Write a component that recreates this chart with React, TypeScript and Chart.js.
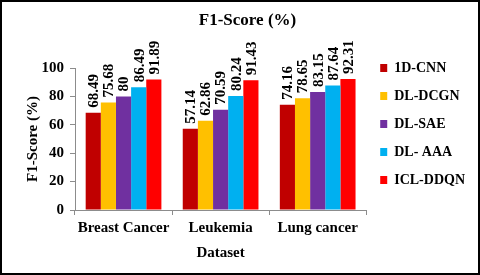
import React, { useEffect, useRef } from "react";
import { Chart, registerables } from "chart.js";

Chart.register(...registerables);

const categories = ["Breast Cancer", "Leukemia", "Lung cancer"];
const seriesNames = ["1D-CNN", "DL-DCGN", "DL-SAE", "DL- AAA", "ICL-DDQN"];
const cnnValues = [68.49, 57.14, 74.16];
const dcgnValues = [75.68, 62.86, 78.65];
const saeValues = [80, 70.59, 83.15];
const aaaValues = [86.49, 80.24, 87.64];
const ddqnValues = [91.89, 91.43, 92.31];
const seriesColors = ["#C00000", "#FFC000", "#7030A0", "#00B0F0", "#FF0000"];
const yTicks = [0, 20, 40, 60, 80, 100];

const FONT = "'Liberation Serif', 'Times New Roman', serif";

const valueLabels = {
  id: "valueLabels",
  afterDatasetsDraw(chart: any) {
    const ctx = chart.ctx;
    ctx.save();
    ctx.fillStyle = "#000";
    ctx.font = `bold 15px ${FONT}`;
    ctx.textAlign = "left";
    ctx.textBaseline = "middle";
    chart.data.datasets.forEach((ds: any, di: number) => {
      const meta = chart.getDatasetMeta(di);
      meta.data.forEach((bar: any, i: number) => {
        ctx.save();
        ctx.translate(bar.x, bar.y - 5);
        ctx.rotate(-Math.PI / 2);
        ctx.fillText(String(ds.data[i]), 0, 1);
        ctx.restore();
      });
    });
    ctx.restore();
  },
};

export default function App() {
  const ref = useRef<HTMLCanvasElement>(null);
  useEffect(() => {
    const allValues = [cnnValues, dcgnValues, saeValues, aaaValues, ddqnValues];
    const chart = new Chart(ref.current!, {
      type: "bar",
      data: {
        labels: categories,
        datasets: seriesNames.map((name, i) => ({
          label: name,
          data: allValues[i],
          backgroundColor: seriesColors[i],
          borderWidth: 0,
          barPercentage: 1,
          categoryPercentage: 0.78,
        })),
      },
      options: {
        responsive: false,
        animation: false,
        layout: { padding: { left: 20, right: 5, top: 0, bottom: 9 } },
        plugins: {
          title: {
            display: true,
            text: "F1-Score (%)",
            color: "#000",
            font: { family: FONT, size: 17, weight: "bold" },
            padding: { top: 10, bottom: 37.6 },
          },
          legend: {
            position: "right",
            align: "start",
            title: { display: true, text: "", font: { size: 12 }, padding: { top: 17, bottom: 15.6 } },
            labels: {
              boxWidth: 7,
              boxHeight: 8,
              padding: 14,
              color: "#000",
              font: { family: FONT, size: 14, weight: "bold" },
            },
          },
          tooltip: { enabled: false },
        },
        scales: {
          x: {
            grid: { drawOnChartArea: false, tickLength: 5, color: "#8c8c8c", offset: true },
            border: { color: "#8c8c8c" },
            ticks: {
              color: "#000",
              padding: 4,
              maxRotation: 0,
              autoSkip: false,
              font: { family: FONT, size: 15, weight: "bold" },
            },
            title: {
              display: true,
              text: "Dataset",
              color: "#000",
              font: { family: FONT, size: 15, weight: "bold" },
              padding: { top: 3, bottom: 4 },
            },
          },
          y: {
            min: 0,
            max: 100,
            afterBuildTicks: (axis: any) => {
              axis.ticks = yTicks.map((v) => ({ value: v }));
            },
            grid: { drawOnChartArea: false, tickLength: 5, color: "#8c8c8c" },
            border: { color: "#8c8c8c" },
            ticks: {
              color: "#000",
              padding: 6,
              font: { family: FONT, size: 15, weight: "bold" },
            },
            title: {
              display: true,
              text: "F1-Score (%)",
              color: "#000",
              font: { family: FONT, size: 15, weight: "bold" },
              padding: { top: 4, bottom: -6.5 },
            },
          },
        },
      },
      plugins: [valueLabels],
    });
    return () => chart.destroy();
  }, []);

  return (
    <div style={{ position: "fixed", top: 0, left: 0, width: 480, height: 275, background: "#fff" }}>
      <canvas ref={ref} width={480} height={275} style={{ display: "block" }} />
      <div
        style={{
          position: "absolute",
          top: 0,
          left: 0,
          width: 480,
          height: 275,
          boxSizing: "border-box",
          border: "2px solid #000",
          pointerEvents: "none",
        }}
      />
    </div>
  );
}
